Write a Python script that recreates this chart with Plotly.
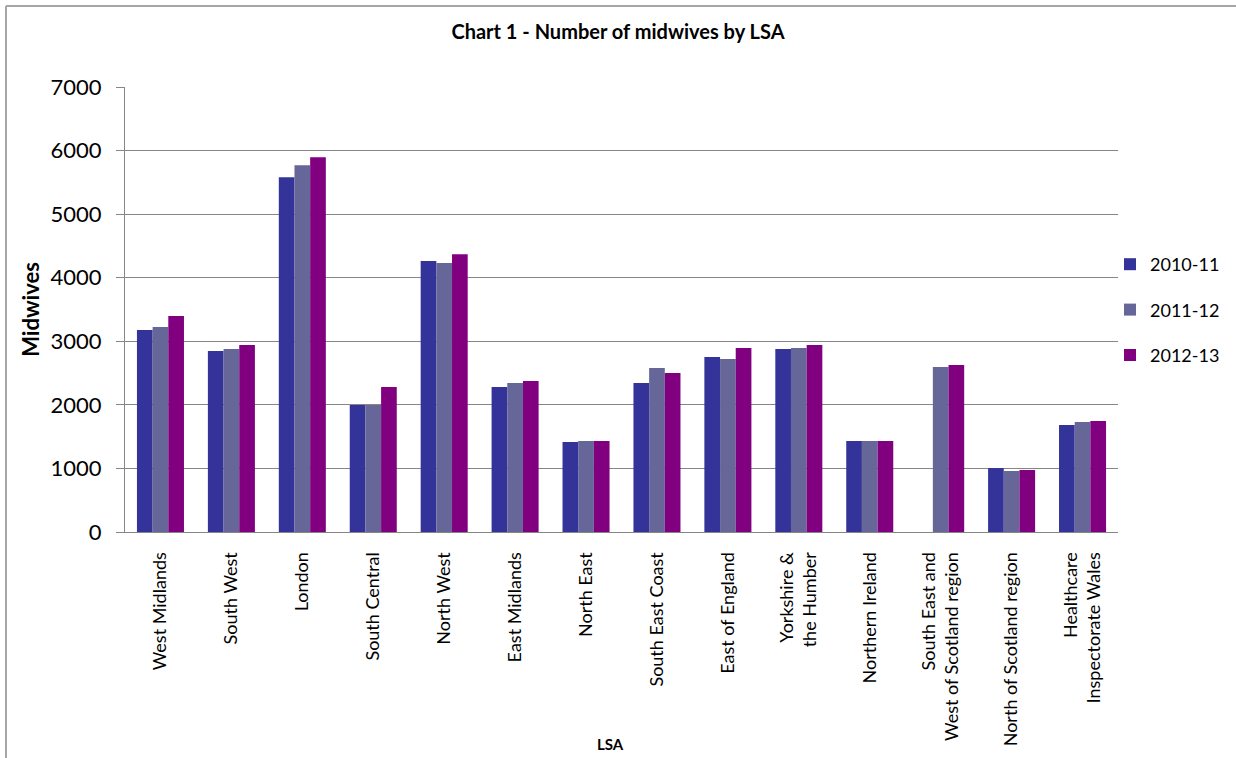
import plotly.graph_objects as go

categories = [
    "West Midlands", "South West", "London", "South Central", "North West",
    "East Midlands", "North East", "South East Coast", "East of England",
    "Yorkshire &<br>the Humber", "Northern Ireland",
    "South East and<br>West of Scotland region", "North of Scotland region",
    "Healthcare<br>Inspectorate Wales",
]
series_names = ["2010-11", "2011-12", "2012-13"]
v2010_11 = [3176, 2846, 5582, 1997, 4261, 2280, 1415, 2343, 2752, 2877, 1431, None, 1006, 1682]
v2011_12 = [3223, 2877, 5770, 1997, 4230, 2343, 1431, 2579, 2720, 2893, 1431, 2594, 959, 1730]
v2012_13 = [3396, 2940, 5896, 2280, 4371, 2374, 1431, 2500, 2893, 2940, 1431, 2626, 975, 1745]
colors = ["#333399", "#666699", "#800080"]
y_ticks = [0, 1000, 2000, 3000, 4000, 5000, 6000, 7000]

FONT = "Lato"

fig = go.Figure()
for name, vals, col in zip(series_names, [v2010_11, v2011_12, v2012_13], colors):
    fig.add_trace(go.Bar(x=categories, y=vals, name=name, marker_color=col,
                         marker_line_width=0, legendgroup=name))

W, H = 1236, 758
L, R, T, B = 125, 1118, 87, 532
pw, ph = R - L, B - T

def px2x(px):
    return (px - L) / pw

def py2y(py):
    return (B - py) / ph

fig.update_layout(
    width=W, height=H,
    margin=dict(l=L, r=W - R, t=T, b=H - B, autoexpand=False),
    paper_bgcolor="white", plot_bgcolor="white",
    barmode="group", bargap=0.337, bargroupgap=0,
    font=dict(family=FONT, color="black"),
    title=dict(text="<b>Chart 1 - Number of midwives by LSA</b>",
               x=618 / W, xanchor="center", xref="container",
               y=1 - 32 / H, yanchor="middle", yref="container",
               font=dict(size=20, family=FONT, color="black")),
    legend=dict(x=px2x(1110), xanchor="left", y=py2y(246), yanchor="top",
                font=dict(size=18, family=FONT, color="black"),
                tracegroupgap=19, bgcolor="rgba(0,0,0,0)"),
    xaxis=dict(tickangle=-90, tickfont=dict(size=18, family=FONT, color="black"),
               showline=True, linecolor="#868686", linewidth=1,
               ticks="", showgrid=False, ticklabelstandoff=12),
    yaxis=dict(range=[0, 7000], tickvals=y_ticks, tickformat="d",
               tickfont=dict(size=22, family=FONT, color="black"),
               showline=True, linecolor="#868686", linewidth=1,
               ticks="outside", ticklen=8, tickcolor="#868686",
               ticklabelstandoff=10,
               showgrid=True, gridcolor="#868686", gridwidth=1,
               zeroline=False,
               title=dict(text="<b>Midwives</b>", standoff=4,
                          font=dict(size=22, family=FONT, color="black"))),
    shapes=[
        dict(type="line", xref="paper", yref="paper",
             x0=px2x(6), x1=px2x(1260), y0=py2y(6), y1=py2y(6),
             line=dict(color="#a6a6a6", width=2)),
        dict(type="line", xref="paper", yref="paper",
             x0=px2x(6), x1=px2x(6), y0=py2y(6), y1=py2y(780),
             line=dict(color="#a6a6a6", width=2)),
    ],
    annotations=[
        dict(text="<b>LSA</b>", xref="paper", yref="paper",
             x=px2x(610), y=py2y(744), xanchor="center", yanchor="middle",
             showarrow=False, font=dict(size=15, family=FONT, color="black")),
    ],
)

fig.write_html("out.html")
